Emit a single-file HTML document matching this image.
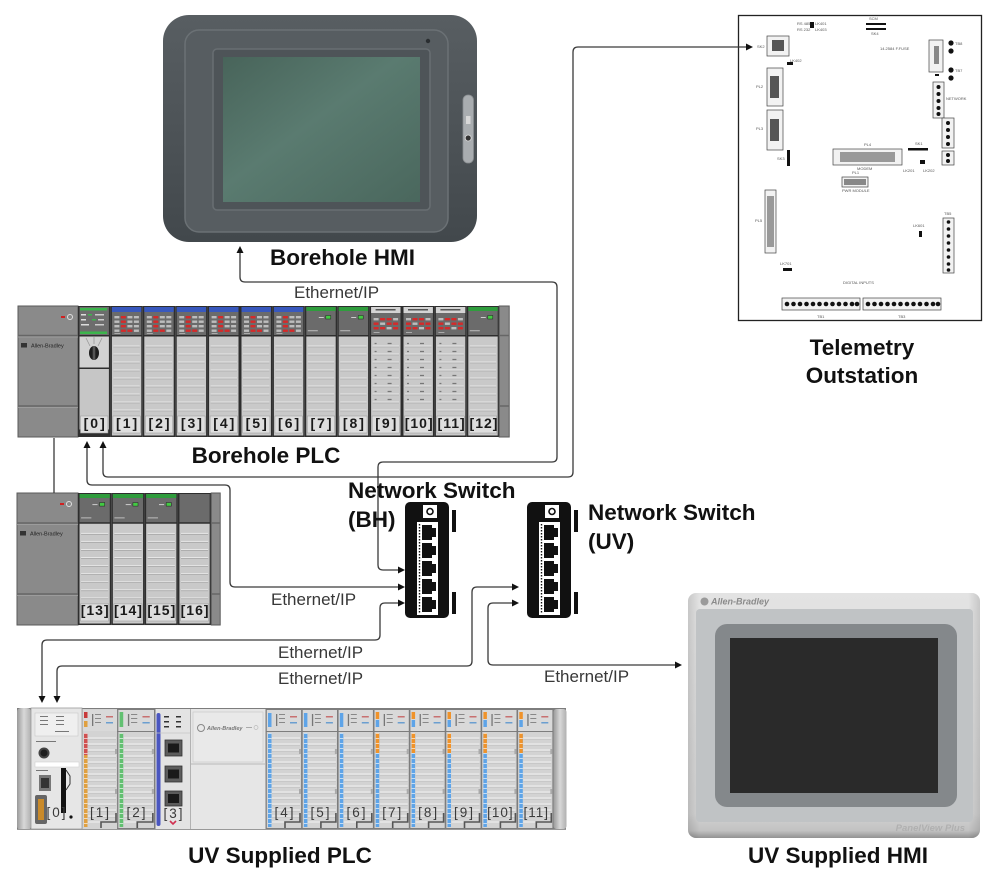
<!DOCTYPE html>
<html><head><meta charset="utf-8">
<style>
html,body{margin:0;padding:0;background:#fff;}
svg{display:block;}
</style></head>
<body>
<svg width="1000" height="883" viewBox="0 0 1000 883" xmlns="http://www.w3.org/2000/svg" xmlns:xlink="http://www.w3.org/1999/xlink" font-family="'Liberation Sans', Arial, sans-serif">
<defs>
 <linearGradient id="gH" x1="0" y1="0" x2="0" y2="1">
  <stop offset="0" stop-color="#585e62"/><stop offset="1" stop-color="#42484c"/>
 </linearGradient>
 <linearGradient id="gS" x1="0" y1="0" x2="1" y2="1">
  <stop offset="0" stop-color="#48645a"/><stop offset="0.45" stop-color="#5a7b70"/><stop offset="1" stop-color="#4a675d"/>
 </linearGradient>
 <linearGradient id="gU" x1="0" y1="0" x2="0" y2="1">
  <stop offset="0" stop-color="#e3e3e3"/><stop offset="0.9" stop-color="#d4d4d4"/><stop offset="0.97" stop-color="#c2c2c2"/><stop offset="1" stop-color="#929292"/>
 </linearGradient>
 <linearGradient id="gUside" x1="0" y1="0" x2="1" y2="0">
  <stop offset="0" stop-color="#000" stop-opacity="0.12"/><stop offset="0.04" stop-color="#000" stop-opacity="0"/><stop offset="0.96" stop-color="#000" stop-opacity="0"/><stop offset="1" stop-color="#000" stop-opacity="0.12"/>
 </linearGradient>
 <linearGradient id="gCap" x1="0" y1="0" x2="1" y2="0">
  <stop offset="0" stop-color="#9a9a9a"/><stop offset="0.5" stop-color="#d8d8d8"/><stop offset="1" stop-color="#b0b0b0"/>
 </linearGradient>

 <g id="bs">
  <rect x="0" y="0" width="32.4" height="131" fill="#2e2e2e"/>
  <rect x="1.5" y="1" width="29.4" height="28" fill="#6b6b6b"/>
  <rect x="1.5" y="30.5" width="29.4" height="99" fill="#c9c9c9"/>
  <path d="M3 40H29.4M3 48H29.4M3 56H29.4M3 64H29.4M3 72H29.4M3 80H29.4M3 88H29.4M3 96H29.4M3 104H29.4" stroke="#e6e6e6" stroke-width="1"/>
  <path d="M3 41H29.4M3 49H29.4M3 57H29.4M3 65H29.4M3 73H29.4M3 81H29.4M3 89H29.4M3 97H29.4M3 105H29.4" stroke="#9e9e9e" stroke-width="0.6"/>
  <rect x="2.5" y="110" width="27.4" height="17" fill="#dedede" stroke="#a0a0a0" stroke-width="0.6"/>
 </g>
 <g id="leds">
  <rect x="4" y="10" width="5" height="2.4" fill="#bdbdbd"/><rect x="10.5" y="10" width="5" height="2.4" fill="#d42a2a"/><rect x="17" y="10" width="5" height="2.4" fill="#bdbdbd"/><rect x="23.5" y="10" width="5" height="2.4" fill="#bdbdbd"/>
  <rect x="4" y="14.5" width="5" height="2.4" fill="#bdbdbd"/><rect x="10.5" y="14.5" width="5" height="2.4" fill="#d42a2a"/><rect x="17" y="14.5" width="5" height="2.4" fill="#bdbdbd"/><rect x="23.5" y="14.5" width="5" height="2.4" fill="#bdbdbd"/>
  <rect x="4" y="19" width="5" height="2.4" fill="#bdbdbd"/><rect x="10.5" y="19" width="5" height="2.4" fill="#d42a2a"/><rect x="17" y="19" width="5" height="2.4" fill="#bdbdbd"/><rect x="23.5" y="19" width="5" height="2.4" fill="#bdbdbd"/>
  <rect x="4" y="23.5" width="5" height="2.4" fill="#bdbdbd"/><rect x="10.5" y="23.5" width="5" height="2.4" fill="#d42a2a"/><rect x="17" y="23.5" width="5" height="2.4" fill="#d42a2a"/><rect x="23.5" y="23.5" width="5" height="2.4" fill="#bdbdbd"/>
 </g>
 <g id="ledsO">
  <rect x="4" y="12" width="5" height="2.4" fill="#bdbdbd"/><rect x="10.5" y="12" width="5" height="2.4" fill="#d42a2a"/><rect x="17" y="12" width="5" height="2.4" fill="#d42a2a"/><rect x="23.5" y="12" width="5" height="2.4" fill="#bdbdbd"/>
  <rect x="4" y="16.5" width="5" height="2.4" fill="#d42a2a"/><rect x="10.5" y="16.5" width="5" height="2.4" fill="#bdbdbd"/><rect x="17" y="16.5" width="5" height="2.4" fill="#d42a2a"/><rect x="23.5" y="16.5" width="5" height="2.4" fill="#d42a2a"/>
  <rect x="4" y="21" width="5" height="2.4" fill="#d42a2a"/><rect x="10.5" y="21" width="5" height="2.4" fill="#d42a2a"/><rect x="17" y="21" width="5" height="2.4" fill="#bdbdbd"/><rect x="23.5" y="21" width="5" height="2.4" fill="#d42a2a"/>
 </g>
 <g id="bsBlue">
  <use xlink:href="#bs"/>
  <rect x="1.5" y="1" width="29.4" height="5" fill="#3858bd"/>
  <use xlink:href="#leds"/>
  <rect x="4" y="27" width="6" height="1" fill="#aaa"/>
 </g>
 <g id="bsGreen">
  <use xlink:href="#bs"/>
  <rect x="1.5" y="1" width="29.4" height="4" fill="#2f9c3d"/>
  <rect x="21" y="9.5" width="5" height="3.5" fill="#43c943" stroke="#222" stroke-width="0.5"/>
  <rect x="14" y="11" width="5" height="1" fill="#ccc"/>
  <rect x="3" y="24" width="10" height="1.3" fill="#aaa"/>
 </g>
 <g id="bsOut">
  <use xlink:href="#bs"/>
  <rect x="1.5" y="1" width="29.4" height="6" fill="#d4d4d4"/>
  <rect x="6" y="3" width="20" height="1.5" fill="#555"/>
  <use xlink:href="#ledsO"/>
  <rect x="4" y="26" width="6" height="1" fill="#aaa"/>
  <path d="M5 37.5h2M18 37.5h4M5 45.5h2M18 45.5h4M5 53.5h2M18 53.5h4M5 61.5h2M18 61.5h4M5 69.5h2M18 69.5h4M5 77.5h2M18 77.5h4M5 85.5h2M18 85.5h4M5 93.5h2M18 93.5h4" stroke="#777" stroke-width="1.3"/>
 </g>

 <g id="us">
  <rect x="0.8" y="1" width="34.3" height="21" fill="#d9d9d9"/>
  <rect x="0.8" y="23" width="34.3" height="96" fill="#d3d3d3"/>
  <path d="M6 29H34M6 35H34M6 41H34M6 47H34M6 53H34M6 59H34M6 65H34M6 71H34M6 77H34M6 83H34M6 89H34M6 95H34M6 101H34M6 107H34M6 113H34" stroke="#ebebeb" stroke-width="1.2"/>
  <path d="M6 30.5H34M6 36.5H34M6 42.5H34M6 48.5H34M6 54.5H34M6 60.5H34M6 66.5H34M6 72.5H34M6 78.5H34M6 84.5H34M6 90.5H34M6 96.5H34M6 102.5H34M6 108.5H34" stroke="#bdbdbd" stroke-width="0.6"/>
  <rect x="10" y="5" width="1.3" height="12" fill="#777"/>
  <rect x="13" y="5" width="6" height="1" fill="#888"/><rect x="13" y="9" width="6" height="1" fill="#888"/><rect x="13" y="13" width="6" height="1" fill="#888"/>
  <rect x="24" y="7" width="7" height="1.5" fill="#c87070"/>
  <rect x="24" y="13" width="7" height="1.5" fill="#6a9ed0"/>
  <path d="M19 119V113H34V104" stroke="#555" stroke-width="1.6" fill="none"/>
  <rect x="33" y="40" width="2" height="5" fill="#aaa"/><rect x="33" y="80" width="2" height="5" fill="#aaa"/>
 </g>
 <g id="usBlue">
  <use xlink:href="#us"/>
  <rect x="2" y="24" width="3.5" height="94" fill="#5ea4e8"/>
  <rect x="2" y="4" width="3.5" height="14" fill="#5ea4e8"/>
  <path d="M3.75 24V118" stroke="#fff" stroke-width="3.5" stroke-dasharray="0.6 4.4"/>
 </g>
 <g id="usOr">
  <use xlink:href="#us"/>
  <rect x="2" y="24" width="3.5" height="94" fill="#5ea4e8"/>
  <rect x="2" y="24" width="3.5" height="20" fill="#f0932a"/>
  <rect x="2" y="3" width="3.5" height="7" fill="#f0932a"/>
  <rect x="2" y="11" width="3.5" height="7" fill="#5ea4e8"/>
  <path d="M3.75 24V118" stroke="#fff" stroke-width="3.5" stroke-dasharray="0.6 4.4"/>
 </g>
</defs>

<rect width="1000" height="883" fill="#fff"/>

<!-- Borehole HMI -->
<rect x="163" y="15" width="314" height="227" rx="26" fill="url(#gH)"/>
<rect x="185" y="30" width="263" height="202" rx="14" fill="#575d61" stroke="#6b7175" stroke-width="1.5"/>
<rect x="213" y="49" width="217" height="161" rx="4" fill="#4e5458" stroke="#686e72" stroke-width="1.5"/>
<rect x="223" y="57" width="197" height="145" fill="url(#gS)"/>
<circle cx="428" cy="41" r="2.2" fill="#2a2e31"/>
<rect x="463" y="95" width="10.5" height="68" rx="5" fill="#a9adb0" stroke="#8a8e91" stroke-width="0.8"/>
<rect x="466" y="116" width="4.5" height="8" fill="#d8d8d8"/>
<circle cx="468.2" cy="138" r="3" fill="#333" stroke="#ddd" stroke-width="0.8"/>

<!-- Telemetry Outstation -->
<rect x="738.5" y="15.5" width="243" height="305" fill="#fff" stroke="#222" stroke-width="1.3"/>
<g stroke="#444" stroke-width="0.7" fill="#f2f2f2">
 <rect x="767" y="36" width="22" height="20"/>
 <rect x="767" y="68" width="16" height="38"/>
 <rect x="767" y="110" width="16" height="40"/>
 <rect x="929" y="40" width="14" height="32"/>
 <rect x="933" y="82" width="11" height="36"/>
 <rect x="942" y="118" width="12" height="30"/>
 <rect x="942" y="151" width="12" height="14"/>
 <rect x="833" y="149" width="69" height="16"/>
 <rect x="842" y="177" width="26" height="10"/>
 <rect x="765" y="190" width="11" height="63"/>
 <rect x="943" y="218" width="11" height="55"/>
 <rect x="782" y="298" width="78" height="12"/>
 <rect x="863" y="298" width="78" height="12"/>
</g>
<g fill="#555">
 <rect x="772" y="40" width="12" height="11"/>
 <rect x="770" y="76" width="9" height="22"/>
 <rect x="770" y="119" width="9" height="22"/>
 <rect x="934" y="46" width="5" height="18" fill="#888"/>
 <rect x="840" y="152" width="55" height="10" fill="#999"/>
 <rect x="767" y="196" width="7" height="51" fill="#999"/>
 <rect x="844" y="179" width="22" height="6" fill="#888"/>
</g>
<g fill="#111">
 <circle cx="951" cy="43" r="2.6"/><circle cx="951" cy="51" r="2.6"/>
 <circle cx="951" cy="70" r="2.6"/><circle cx="951" cy="78" r="2.6"/>
 <circle cx="938.5" cy="87" r="2"/><circle cx="938.5" cy="94" r="2"/><circle cx="938.5" cy="101" r="2"/><circle cx="938.5" cy="108" r="2"/><circle cx="938.5" cy="114" r="2"/>
 <circle cx="948" cy="123" r="2"/><circle cx="948" cy="130" r="2"/><circle cx="948" cy="137" r="2"/><circle cx="948" cy="144" r="2"/>
 <circle cx="948" cy="155" r="2"/><circle cx="948" cy="161" r="2"/>
 <circle cx="948.5" cy="222" r="1.8"/><circle cx="948.5" cy="229" r="1.8"/><circle cx="948.5" cy="236" r="1.8"/><circle cx="948.5" cy="243" r="1.8"/><circle cx="948.5" cy="250" r="1.8"/><circle cx="948.5" cy="257" r="1.8"/><circle cx="948.5" cy="264" r="1.8"/><circle cx="948.5" cy="270" r="1.8"/>
 <rect x="866" y="23" width="20" height="2"/><rect x="866" y="28" width="20" height="2"/>
 <rect x="810" y="22" width="4" height="6"/>
 <rect x="787" y="62" width="6" height="3"/>
 <rect x="787" y="150" width="3" height="16"/>
 <rect x="908" y="148" width="20" height="2.5"/>
 <rect x="920" y="160" width="5" height="4"/>
 <rect x="919" y="231" width="3" height="6"/>
 <rect x="783" y="268" width="9" height="3"/>
 <rect x="935" y="74" width="4" height="2"/>
</g>
<g fill="#111">
 <circle cx="787" cy="304" r="2.3"/><circle cx="793.5" cy="304" r="2.3"/><circle cx="800" cy="304" r="2.3"/><circle cx="806.5" cy="304" r="2.3"/><circle cx="813" cy="304" r="2.3"/><circle cx="819.5" cy="304" r="2.3"/><circle cx="826" cy="304" r="2.3"/><circle cx="832.5" cy="304" r="2.3"/><circle cx="839" cy="304" r="2.3"/><circle cx="845.5" cy="304" r="2.3"/><circle cx="852" cy="304" r="2.3"/><circle cx="857" cy="304" r="2.3"/>
 <circle cx="868" cy="304" r="2.3"/><circle cx="874.5" cy="304" r="2.3"/><circle cx="881" cy="304" r="2.3"/><circle cx="887.5" cy="304" r="2.3"/><circle cx="894" cy="304" r="2.3"/><circle cx="900.5" cy="304" r="2.3"/><circle cx="907" cy="304" r="2.3"/><circle cx="913.5" cy="304" r="2.3"/><circle cx="920" cy="304" r="2.3"/><circle cx="926.5" cy="304" r="2.3"/><circle cx="933" cy="304" r="2.3"/><circle cx="938" cy="304" r="2.3"/>
</g>
<g font-size="4" fill="#555">
 <text x="797" y="25">RS 485</text><text x="797" y="31">RS 232</text>
 <text x="815" y="25">LK401</text><text x="815" y="31">LK403</text>
 <text x="869" y="20">SCM</text><text x="871" y="35">SK4</text>
 <text x="757" y="48">SK2</text>
 <text x="790" y="62">LK402</text>
 <text x="756" y="88">PL2</text><text x="756" y="130">PL3</text>
 <text x="777" y="160">SK3</text>
 <text x="880" y="50">14.2584 F.FUSE</text>
 <text x="955" y="45">TB8</text><text x="955" y="72">TB7</text>
 <text x="946" y="100">NETWORK</text>
 <text x="864" y="146">PL4</text><text x="857" y="170">MODEM</text>
 <text x="915" y="145">SK1</text>
 <text x="903" y="172">LK201</text><text x="923" y="172">LK202</text>
 <text x="852" y="174">PL1</text><text x="842" y="192">PWR MODULE</text>
 <text x="755" y="222">PL5</text>
 <text x="913" y="227">LK601</text>
 <text x="780" y="265">LK701</text>
 <text x="843" y="284">DIGITAL INPUTS</text>
 <text x="817" y="318">TB1</text><text x="898" y="318">TB3</text>
 <text x="944" y="215">TB5</text>
</g>

<!-- Borehole PLC upper rack -->
<rect x="18" y="306" width="60" height="131" fill="#8a8a8a" stroke="#5a5a5a" stroke-width="1"/>
<path d="M18 335.5H78M18 406H78" stroke="#666" stroke-width="1.5"/>
<path d="M18 337H78M18 407.5H78" stroke="#a2a2a2" stroke-width="0.8"/>
<rect x="61" y="316" width="4" height="2" fill="#d02020"/>
<circle cx="70" cy="317" r="2.5" fill="none" stroke="#e0e0e0" stroke-width="1"/>
<rect x="21" y="343" width="6" height="4.5" fill="#333"/>
<text x="31" y="347.5" font-size="5.5" fill="#222">Allen-Bradley</text>

<rect x="78" y="306" width="32.4" height="131" fill="#2e2e2e"/>
<rect x="79.5" y="307" width="29.4" height="28" fill="#6d6d6d"/>
<rect x="80" y="308" width="27" height="2.5" fill="#3cb54c"/>
<rect x="80" y="331.5" width="27" height="2.5" fill="#3cb54c"/>
<rect x="81" y="314" width="5" height="1.5" fill="#ddd"/><rect x="88" y="314" width="4" height="1.5" fill="#3cb54c"/><rect x="95" y="314" width="9" height="1.5" fill="#ccc"/>
<rect x="81" y="319" width="5" height="1.5" fill="#ddd"/><rect x="92" y="319" width="4" height="1.5" fill="#3cb54c"/><rect x="98" y="319" width="6" height="1.5" fill="#ccc"/>
<rect x="81" y="324" width="8" height="1.5" fill="#ddd"/><rect x="95" y="324" width="9" height="1.5" fill="#ccc"/>
<rect x="79.5" y="336.5" width="29.4" height="31" fill="#d2d2d2"/>
<path d="M86 338L90 346M102 338L98 346M94 337V344" stroke="#999" stroke-width="0.8"/>
<ellipse cx="94" cy="353" rx="5" ry="7" fill="#1e1e1e"/>
<rect x="92.7" y="346" width="2.6" height="14" fill="#555"/>
<rect x="79.5" y="369" width="29.4" height="60.5" fill="#c6c6c6"/>
<rect x="80.5" y="416" width="27.4" height="17" fill="#dedede" stroke="#a0a0a0" stroke-width="0.6"/>

<use xlink:href="#bsBlue" x="110.4" y="306"/>
<use xlink:href="#bsBlue" x="142.8" y="306"/>
<use xlink:href="#bsBlue" x="175.2" y="306"/>
<use xlink:href="#bsBlue" x="207.6" y="306"/>
<use xlink:href="#bsBlue" x="240" y="306"/>
<use xlink:href="#bsBlue" x="272.4" y="306"/>
<use xlink:href="#bsGreen" x="304.8" y="306"/>
<use xlink:href="#bsGreen" x="337.2" y="306"/>
<use xlink:href="#bsOut" x="369.6" y="306"/>
<use xlink:href="#bsOut" x="402" y="306"/>
<use xlink:href="#bsOut" x="434.4" y="306"/>
<use xlink:href="#bsGreen" x="466.8" y="306"/>
<rect x="499.2" y="306" width="10" height="131" fill="#8a8a8a" stroke="#5a5a5a" stroke-width="1"/>
<path d="M499 335.5H509M499 406H509" stroke="#666" stroke-width="1.5"/>

<g font-size="14" font-weight="bold" fill="#1a1a1a" text-anchor="middle" letter-spacing="2">
 <text x="95.2" y="428">[0]</text>
 <text x="127.6" y="428">[1]</text>
 <text x="160" y="428">[2]</text>
 <text x="192.4" y="428">[3]</text>
 <text x="224.8" y="428">[4]</text>
 <text x="257.2" y="428">[5]</text>
 <text x="289.6" y="428">[6]</text>
 <text x="322" y="428">[7]</text>
 <text x="354.4" y="428">[8]</text>
 <text x="386.8" y="428">[9]</text>
 <text x="419.2" y="428" letter-spacing="1">[10]</text>
 <text x="451.6" y="428" letter-spacing="1">[11]</text>
 <text x="484" y="428" letter-spacing="1">[12]</text>
</g>

<!-- lower rack -->
<rect x="17" y="493" width="61" height="132" fill="#8a8a8a" stroke="#5a5a5a" stroke-width="1"/>
<path d="M17 523H78M17 594H78" stroke="#666" stroke-width="1.5"/>
<path d="M17 524.5H78M17 595.5H78" stroke="#a2a2a2" stroke-width="0.8"/>
<rect x="60" y="503" width="4" height="2" fill="#d02020"/>
<circle cx="69" cy="504" r="2.5" fill="none" stroke="#e0e0e0" stroke-width="1"/>
<rect x="20" y="531" width="6" height="4.5" fill="#333"/>
<text x="30" y="535.5" font-size="5.5" fill="#222">Allen-Bradley</text>
<g transform="translate(78,493) scale(1.028,1.008)"><use xlink:href="#bsGreen"/></g>
<g transform="translate(111.3,493) scale(1.028,1.008)"><use xlink:href="#bsGreen"/></g>
<g transform="translate(144.6,493) scale(1.028,1.008)"><use xlink:href="#bsGreen"/></g>
<g transform="translate(177.9,493) scale(1.028,1.008)"><use xlink:href="#bs"/></g>
<rect x="211.2" y="493" width="9" height="132" fill="#8a8a8a" stroke="#5a5a5a" stroke-width="1"/>
<path d="M211 523H220M211 594H220" stroke="#666" stroke-width="1.5"/>
<g font-size="14" font-weight="bold" fill="#1a1a1a" text-anchor="middle" letter-spacing="1">
 <text x="95.2" y="615">[13]</text>
 <text x="128.5" y="615">[14]</text>
 <text x="161.8" y="615">[15]</text>
 <text x="195.1" y="615">[16]</text>
</g>

<!-- Network switches -->
<g id="swBH">
 <rect x="405" y="502" width="44" height="116" rx="5" fill="#111"/>
 <rect x="452" y="510" width="4" height="22" fill="#111"/>
 <rect x="452" y="592" width="4" height="22" fill="#111"/>
 <rect x="423" y="505" width="14" height="13" fill="#fff"/>
 <circle cx="430" cy="511.5" r="3" fill="none" stroke="#111" stroke-width="1.6"/>
 <rect x="417" y="522" width="21" height="93" fill="#fff"/>
 <path d="M419.5 524V613" stroke="#111" stroke-width="1.4" stroke-dasharray="1.5 1.5"/>
 <g fill="#111">
  <polygon points="422,525 432,525 432,528 436,528 436,537 432,537 432,540 422,540"/>
  <polygon points="422,543 432,543 432,546 436,546 436,555 432,555 432,558 422,558"/>
  <polygon points="422,561 432,561 432,564 436,564 436,573 432,573 432,576 422,576"/>
  <polygon points="422,579 432,579 432,582 436,582 436,591 432,591 432,594 422,594"/>
  <polygon points="422,597 432,597 432,600 436,600 436,609 432,609 432,612 422,612"/>
 </g>
</g>
<use xlink:href="#swBH" x="122" y="0"/>

<!-- UV Supplied PLC -->
<rect x="17" y="708" width="549" height="122" fill="#7d7d7d"/>
<rect x="17" y="708" width="14" height="122" rx="4" fill="url(#gCap)"/>
<rect x="31" y="708" width="51" height="121" fill="#e6e6e6" stroke="#9a9a9a" stroke-width="0.8"/>
<rect x="35" y="713" width="43" height="23" fill="#efefef" stroke="#c8c8c8" stroke-width="0.6"/>
<g fill="#777">
 <rect x="40" y="716" width="8" height="1"/><rect x="56" y="716" width="8" height="1"/>
 <rect x="40" y="720" width="8" height="1"/><rect x="56" y="720" width="8" height="1"/>
 <rect x="40" y="724" width="8" height="1"/><rect x="56" y="724" width="8" height="1"/>
 <rect x="55" y="731" width="14" height="1"/>
 <rect x="36" y="741" width="20" height="1"/>
 <rect x="36" y="770" width="12" height="1"/>
</g>
<circle cx="44" cy="753" r="5.5" fill="#444"/><circle cx="44" cy="753" r="3.5" fill="#1e1e1e"/>
<rect x="35" y="762" width="44" height="5" fill="#fff" stroke="#d0d0d0" stroke-width="0.6"/>
<rect x="39" y="775" width="12" height="16" fill="#777"/><rect x="41" y="778" width="8" height="10" fill="#333"/>
<rect x="61" y="768" width="5" height="45" fill="#111"/>
<path d="M66 770l4 6v8l-4 6" stroke="#333" stroke-width="1" fill="none"/>
<rect x="35" y="795" width="12" height="29" rx="2" fill="#666"/><rect x="38" y="799" width="6" height="21" fill="#c98a2a"/>
<circle cx="71" cy="817" r="1.6" fill="#111"/>

<rect x="82.5" y="709" width="34.5" height="120" fill="#d3d3d3"/>
<g transform="translate(82,709)"><use xlink:href="#us"/>
 <rect x="2" y="24" width="3.5" height="94" fill="#e0a040"/>
 <rect x="2" y="24" width="3.5" height="22" fill="#d05050"/>
 <rect x="2" y="3" width="3.5" height="6" fill="#c83a3a"/>
 <rect x="2" y="12" width="3.5" height="6" fill="#e0a040"/>
 <path d="M3.75 24V118" stroke="#fff" stroke-width="3.5" stroke-dasharray="0.6 4.4"/>
</g>
<g transform="translate(117.5,709) scale(1.04,1)"><use xlink:href="#us"/>
 <rect x="2" y="24" width="3.5" height="94" fill="#62c071"/>
 <rect x="2" y="3" width="3.5" height="15" fill="#62c071"/>
 <path d="M3.75 24V118" stroke="#fff" stroke-width="3.5" stroke-dasharray="0.6 4.4"/>
</g>
<rect x="155.5" y="709" width="34.5" height="120" fill="#e3e3e3"/>
<rect x="156.5" y="713" width="4" height="113" rx="2" fill="#4a56c0"/>
<g fill="#333">
 <rect x="164" y="716" width="5" height="1.5"/><rect x="176" y="716" width="5" height="1.5"/>
 <rect x="164" y="721" width="5" height="1.5"/><rect x="176" y="721" width="5" height="1.5"/>
 <rect x="164" y="726" width="5" height="1.5"/><rect x="176" y="726" width="5" height="1.5"/>
</g>
<path d="M156 733H190" stroke="#c4c4c4" stroke-width="0.8"/>
<g fill="#5c5c5c" stroke="#333" stroke-width="0.8">
 <rect x="165" y="740" width="17" height="16"/>
 <rect x="165" y="766" width="17" height="16"/>
 <rect x="165" y="791" width="17" height="15"/>
</g>
<g fill="#1a1a1a">
 <rect x="168" y="743.5" width="11" height="9"/>
 <rect x="168" y="769.5" width="11" height="9"/>
 <rect x="168" y="794" width="11" height="9"/>
</g>
<path d="M170 821l3 3l3-3" stroke="#d03050" stroke-width="1.6" fill="none"/>
<rect x="190.5" y="709" width="75" height="120" fill="#e6e6e6"/>
<rect x="193" y="712" width="70" height="50" fill="#e9e9e9" stroke="#c6c6c6" stroke-width="0.6"/>
<path d="M191 764H265" stroke="#b8b8b8" stroke-width="1"/>
<circle cx="201" cy="728" r="3.5" fill="none" stroke="#888" stroke-width="1"/>
<text x="207" y="730" font-size="5.5" font-style="italic" font-weight="bold" fill="#777">Allen-Bradley</text>
<rect x="246" y="727" width="6" height="1" fill="#aaa"/><circle cx="256" cy="727.5" r="2" fill="none" stroke="#bbb" stroke-width="0.7"/>

<g transform="translate(266,709)"><use xlink:href="#usBlue"/></g>
<g transform="translate(301.9,709)"><use xlink:href="#usBlue"/></g>
<g transform="translate(337.8,709)"><use xlink:href="#usBlue"/></g>
<g transform="translate(373.7,709)"><use xlink:href="#usOr"/></g>
<g transform="translate(409.6,709)"><use xlink:href="#usOr"/></g>
<g transform="translate(445.5,709)"><use xlink:href="#usOr"/></g>
<g transform="translate(481.4,709)"><use xlink:href="#usOr"/></g>
<g transform="translate(517.3,709)"><use xlink:href="#usOr"/></g>
<rect x="553.5" y="709" width="13" height="120" rx="3" fill="url(#gCap)"/>
<path d="M17 829.5H566" stroke="#999" stroke-width="1"/>

<g font-size="13.5" fill="#3a3a3a" text-anchor="middle" letter-spacing="2">
 <text x="57" y="817">[0]</text>
 <text x="100.5" y="817">[1]</text>
 <text x="137" y="817">[2]</text>
 <text x="174" y="818">[3]</text>
 <text x="285" y="817">[4]</text>
 <text x="321" y="817">[5]</text>
 <text x="357" y="817">[6]</text>
 <text x="392.7" y="817">[7]</text>
 <text x="428.6" y="817">[8]</text>
 <text x="464.5" y="817">[9]</text>
 <text x="500.4" y="817" letter-spacing="1">[10]</text>
 <text x="536.3" y="817" letter-spacing="1">[11]</text>
</g>

<!-- UV Supplied HMI -->
<rect x="688" y="593" width="292" height="245" rx="8" fill="url(#gU)"/>
<rect x="688" y="593" width="292" height="245" rx="8" fill="url(#gUside)"/>
<rect x="696" y="609" width="277" height="213" rx="4" fill="#c0c3c5"/>
<rect x="715" y="624" width="242" height="183" rx="12" fill="#84888b"/>
<rect x="730" y="638" width="208" height="155" fill="#2a2a2a"/>
<circle cx="704.5" cy="601.5" r="4" fill="#9a9a9a"/>
<text x="711" y="604.5" font-size="9" font-style="italic" font-weight="bold" fill="#8a8a8a">Allen-Bradley</text>
<text x="965" y="831" font-size="9.5" font-style="italic" font-weight="bold" fill="#b0b0b0" text-anchor="end">PanelView Plus</text>

<!-- Connectors -->
<g fill="none" stroke="#3a3a3a" stroke-width="1.3">
 <path d="M399 570H383Q378 570 378 565V467Q378 462 383 462H552Q557 462 557 457V287Q557 282 552 282H245Q240 282 240 277V253"/>
 <path d="M103 447V472Q103 477 108 477H568Q573 477 573 472V52Q573 47 578 47H747"/>
 <path d="M87 447V480Q87 485 92 485H225Q230 485 230 490V582Q230 587 235 587H399"/>
 <path d="M399 603H385Q380 603 380 608V635Q380 640 375 640H47Q42 640 42 645V696"/>
 <path d="M57 696V671Q57 666 62 666H467Q472 666 472 661V592Q472 587 477 587H513"/>
 <path d="M513 603H493Q488 603 488 608V660Q488 665 493 665H676"/>
 <path d="M54 438V493"/>
</g>
<g fill="#111">
 <polygon points="405,570 398,566.5 398,573.5"/>
 <polygon points="240,246 236.5,253 243.5,253"/>
 <polygon points="753,47 746,43.5 746,50.5"/>
 <polygon points="103,441 99.5,448 106.5,448"/>
 <polygon points="87,441 83.5,448 90.5,448"/>
 <polygon points="405,587 398,583.5 398,590.5"/>
 <polygon points="405,603 398,599.5 398,606.5"/>
 <polygon points="42,703 38.5,696 45.5,696"/>
 <polygon points="57,703 53.5,696 60.5,696"/>
 <polygon points="519,587 512,583.5 512,590.5"/>
 <polygon points="519,603 512,599.5 512,606.5"/>
 <polygon points="682,665 675,661.5 675,668.5"/>
</g>

<!-- Labels -->
<g font-size="17" fill="#383838">
 <text x="294" y="298">Ethernet/IP</text>
 <text x="271" y="605">Ethernet/IP</text>
 <text x="278" y="658">Ethernet/IP</text>
 <text x="278" y="684">Ethernet/IP</text>
 <text x="544" y="682">Ethernet/IP</text>
</g>
<g font-size="22.5" font-weight="bold" fill="#111">
 <text x="342.5" y="265" text-anchor="middle">Borehole HMI</text>
 <text x="266" y="463" text-anchor="middle">Borehole PLC</text>
 <text x="348" y="498">Network Switch</text>
 <text x="348" y="527">(BH)</text>
 <text x="588" y="520">Network Switch</text>
 <text x="588" y="549">(UV)</text>
 <text x="862" y="355" text-anchor="middle">Telemetry</text>
 <text x="862" y="383" text-anchor="middle">Outstation</text>
 <text x="280" y="863" text-anchor="middle">UV Supplied PLC</text>
 <text x="838" y="863" text-anchor="middle">UV Supplied HMI</text>
</g>
</svg>
</body></html>
